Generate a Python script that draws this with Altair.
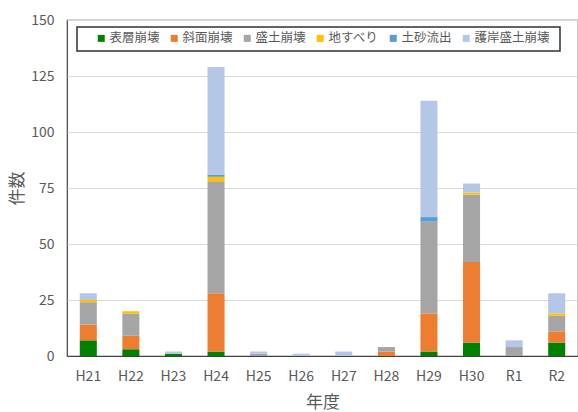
import altair as alt
import pandas as pd

years = ["H21", "H22", "H23", "H24", "H25", "H26", "H27", "H28", "H29", "H30", "R1", "R2"]
series = ["表層崩壊", "斜面崩壊", "盛土崩壊", "地すべり", "土砂流出", "護岸盛土崩壊"]
colors = ["#008000", "#ED7D31", "#A5A5A5", "#FFC000", "#5B9BD5", "#B4C7E7"]

hyoso = [7, 3, 1, 2, 0, 0, 0, 0, 2, 6, 0, 6]
shamen = [7, 6, 0, 26, 0, 0, 0, 2, 17, 36, 0, 5]
morido = [10, 10, 0, 50, 1, 0, 0, 2, 41, 30, 4, 7]
jisuberi = [1, 1, 0, 2, 0, 0, 0, 0, 0, 1, 0, 1]
dosha = [0, 0, 0, 1, 0, 0, 0, 0, 2, 0, 0, 0]
gogan = [3, 0, 1, 48, 1, 1, 2, 0, 52, 4, 3, 9]

values = [hyoso, shamen, morido, jisuberi, dosha, gogan]

rows = []
for si, (name, vals) in enumerate(zip(series, values)):
    for yr, v in zip(years, vals):
        if v > 0:
            rows.append({"年度": yr, "種別": name, "件数": v, "順": si})
df = pd.DataFrame(rows)

FONT = "Noto Sans CJK JP"
TXT = "#595959"

bars = alt.Chart(df).mark_bar().encode(
    x=alt.X(
        "年度:N",
        sort=years,
        scale=alt.Scale(domain=years, paddingInner=0.6, paddingOuter=0.3),
        axis=alt.Axis(
            title="年度", labelAngle=0, ticks=False, labelPadding=13,
            labelFontSize=14, labelColor=TXT, labelFont=FONT,
            titleFontSize=17, titleColor=TXT, titleFont=FONT, titleFontWeight="normal",
            titleY=46, titleBaseline="middle",
            domainColor="#404040", domainWidth=1.2, grid=False,
        ),
    ),
    y=alt.Y(
        "件数:Q",
        stack="zero",
        scale=alt.Scale(domain=[0, 150], nice=False),
        axis=alt.Axis(
            title="件数", values=[0, 25, 50, 75, 100, 125, 150], ticks=False,
            labelPadding=13, labelFontSize=14, labelColor=TXT, labelFont=FONT,
            titleFontSize=17, titleColor=TXT, titleFont=FONT, titleFontWeight="normal",
            titleX=-50, titleY=168, titleAlign="center", titleBaseline="middle",
            grid=True, gridColor="#D9D9D9", gridWidth=1, domain=False,
        ),
    ),
    color=alt.Color(
        "種別:N",
        scale=alt.Scale(domain=series, range=colors),
        legend=alt.Legend(
            title=None, orient="none", legendX=28, legendY=12,
            direction="horizontal", columns=6, symbolType="square",
            symbolSize=49, symbolStrokeWidth=0, labelFontSize=12.5,
            labelColor=TXT, labelFont=FONT, columnPadding=8, labelOffset=2,
            padding=0,
        ),
    ),
    order=alt.Order("順:Q", sort="ascending"),
)

box = alt.Chart(pd.DataFrame({"b": [0]})).mark_rect(
    fill="white", stroke="#303030", strokeWidth=1.5
).encode(
    x=alt.value(10), x2=alt.value(493), y=alt.value(7), y2=alt.value(31)
)

chart = alt.layer(box, bars).properties(
    width=511,
    height=336,
    autosize=alt.AutoSizeParams(type="none"),
    padding={"left": 67, "top": 20, "right": 0, "bottom": 56},
    background="white",
).configure_view(stroke="#404040", strokeWidth=1.2)

chart.save("out.html", embed_options={"renderer": "svg", "actions": False})
